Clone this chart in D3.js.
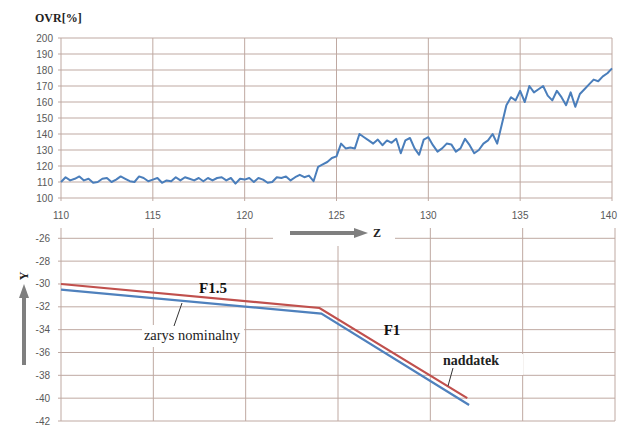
<!DOCTYPE html>
<html><head><meta charset="utf-8">
<script src="https://cdn.jsdelivr.net/npm/d3@7"></script>
<style>
html,body{margin:0;padding:0;background:#fff;}
svg{display:block;}
</style></head>
<body>
<svg id="c" width="618" height="425"></svg>
<script>
// ---- Data ----
const zStart = 110, zStep = 0.25;
const ovrValues = [
 110,113,111,112,113.5,111,112,109.5,110,112,112.5,110,111.5,113.5,112,110.5,
 110,113.5,112.5,110.5,111.5,112.5,109.5,111,110.5,113,111,113,112,111,112.5,110.5,
 112.5,111,112.5,113,111,112.5,109,112,111.5,112.5,110,112.5,111.5,109.5,110,113,
 112.5,113.5,111,113,114.5,113,114,110.5,119.5,121,122.5,125,126,134,131,131.5,
 131,140,138,136,134,136.5,133,136,134.5,137,128,136,137.5,131,127,136.5,
 138,133,129,131,134,133.5,129,131,137,133,128,130,134,136,140,134,
 146,158,163,161,167,160,170,166,168,170,164,161,167,163,158,166,
 157,165,168,171,174,173,176,178,181
];
const ovrZ = ovrValues.map((v,i)=> zStart + i*zStep);

const zNominal = [110, 124.1, 132.1];
const yNominal = [-30.5, -32.6, -40.6];
const zAllowance = [110, 124, 132];
const yAllowance = [-30, -32.1, -40];

const topYTicks = [100,110,120,130,140,150,160,170,180,190,200];
const xTicks = [110,115,120,125,130,135,140];
const botYTicks = [-42,-40,-38,-36,-34,-32,-30,-28,-26];

// ---- Setup ----
const svg = d3.select("#c");
const gridColor = "#bfa9a2";
const tickColor = "#595959";
const sans = "'Liberation Sans', Arial, sans-serif";
const serif = "'Liberation Serif', 'Times New Roman', serif";

const xT = d3.scaleLinear().domain([110,140]).range([61,612]);
const yT = d3.scaleLinear().domain([100,200]).range([198,38]);
const xB = d3.scaleLinear().domain([110,140]).range([61,615]);
const yB = d3.scaleLinear().domain([-42,-26]).range([421,238.3]);
const botTop = 228;

// Top grid
const gT = svg.append("g");
gT.selectAll("line.h").data(topYTicks).join("line")
  .attr("x1", 58).attr("x2", xT(140)).attr("y1", d=>yT(d)).attr("y2", d=>yT(d))
  .attr("stroke", gridColor).attr("stroke-width", 1);
gT.selectAll("line.v").data(xTicks).join("line")
  .attr("x1", d=>xT(d)).attr("x2", d=>xT(d)).attr("y1", yT(200)).attr("y2", yT(100)+3)
  .attr("stroke", gridColor).attr("stroke-width", 1);

gT.selectAll("text.yt").data(topYTicks).join("text")
  .attr("x", 53).attr("y", d=>yT(d)).attr("dy","0.35em")
  .attr("text-anchor","end").attr("font-family", sans).attr("font-size", 10)
  .attr("fill", tickColor).text(d=>d);
gT.selectAll("text.xt").data(xTicks).join("text")
  .attr("x", d=> d===140 ? 617 : xT(d)).attr("y", 215).attr("dy","0.35em")
  .attr("text-anchor", d=> d===140 ? "end" : "middle").attr("font-family", sans).attr("font-size", 10)
  .attr("fill", tickColor).text(d=>d);

svg.append("text").attr("x", 35).attr("y", 22)
  .attr("font-family", serif).attr("font-weight","bold").attr("font-size", 12)
  .attr("fill","#222").text("OVR[%]");

const lineT = d3.line().x((d,i)=>xT(ovrZ[i])).y(d=>yT(d));
svg.append("path").datum(ovrValues).attr("d", lineT)
  .attr("fill","none").attr("stroke","#4a7ebb").attr("stroke-width",2)
  .attr("stroke-linejoin","round");

// Bottom grid
const gB = svg.append("g");
gB.selectAll("line.h").data(botYTicks).join("line")
  .attr("x1", 58).attr("x2", xB(140)).attr("y1", d=>yB(d)).attr("y2", d=>yB(d))
  .attr("stroke", gridColor).attr("stroke-width", 1);
gB.selectAll("line.v").data(xTicks).join("line")
  .attr("x1", d=>xB(d)).attr("x2", d=>xB(d)).attr("y1", botTop).attr("y2", yB(-42))
  .attr("stroke", gridColor).attr("stroke-width", 1);
gB.selectAll("text.yt").data(botYTicks).join("text")
  .attr("x", 50).attr("y", d=>yB(d)).attr("dy","0.35em")
  .attr("text-anchor","end").attr("font-family", sans).attr("font-size", 10)
  .attr("fill", tickColor).text(d=>d);

// white label boxes covering grid
svg.append("rect").attr("x",273).attr("y",226).attr("width",122).attr("height",20).attr("fill","#fff");
svg.append("rect").attr("x",142).attr("y",325).attr("width",102).attr("height",22).attr("fill","#fff");
svg.append("rect").attr("x",440).attr("y",354).attr("width",83).attr("height",21).attr("fill","#fff");

// Bottom lines
const lineBlue = d3.line().x((d,i)=>xB(zNominal[i])).y(d=>yB(d));
const lineRed = d3.line().x((d,i)=>xB(zAllowance[i])).y(d=>yB(d));
svg.append("path").datum(yNominal).attr("d", lineBlue)
  .attr("fill","none").attr("stroke","#4f81bd").attr("stroke-width",2.2);
svg.append("path").datum(yAllowance).attr("d", lineRed)
  .attr("fill","none").attr("stroke","#c0504d").attr("stroke-width",2.2);

// Annotations
svg.append("text").attr("x", 213).attr("y", 293).attr("text-anchor","middle")
  .attr("font-family", serif).attr("font-weight","bold").attr("font-size", 15)
  .attr("fill","#111").text("F1.5");
svg.append("text").attr("x", 392).attr("y", 335).attr("text-anchor","middle")
  .attr("font-family", serif).attr("font-weight","bold").attr("font-size", 15)
  .attr("fill","#111").text("F1");
svg.append("text").attr("x", 192).attr("y", 340).attr("text-anchor","middle")
  .attr("font-family", serif).attr("font-size", 14.5)
  .attr("fill","#222").text("zarys nominalny");
svg.append("line").attr("x1",174).attr("y1",326).attr("x2",182).attr("y2",303)
  .attr("stroke","#333").attr("stroke-width",1);
svg.append("text").attr("x", 471).attr("y", 365).attr("text-anchor","middle")
  .attr("font-family", serif).attr("font-size", 14).attr("font-weight","bold")
  .attr("fill","#222").text("naddatek");
svg.append("line").attr("x1",453).attr("y1",368).attr("x2",448).attr("y2",386)
  .attr("stroke","#333").attr("stroke-width",1);

// Axis arrows
const arrowColor = "#7f7f7f";
svg.append("line").attr("x1",290).attr("y1",233).attr("x2",356).attr("y2",233)
  .attr("stroke",arrowColor).attr("stroke-width",4);
svg.append("path").attr("d","M354,228 L368,233 L354,238 Z").attr("fill",arrowColor);
svg.append("text").attr("x",377).attr("y",233).attr("dy","0.35em").attr("text-anchor","middle")
  .attr("font-family", serif).attr("font-weight","bold").attr("font-size", 12)
  .attr("fill","#222").text("Z");

svg.append("line").attr("x1",24).attr("y1",365).attr("x2",24).attr("y2",296)
  .attr("stroke",arrowColor).attr("stroke-width",4);
svg.append("path").attr("d","M19,298 L24,284 L29,298 Z").attr("fill",arrowColor);
svg.append("text").attr("transform","translate(24,276) rotate(-90)")
  .attr("dy","0.35em").attr("text-anchor","middle")
  .attr("font-family", serif).attr("font-weight","bold").attr("font-size", 12)
  .attr("fill","#222").text("Y");
</script>
</body></html>
